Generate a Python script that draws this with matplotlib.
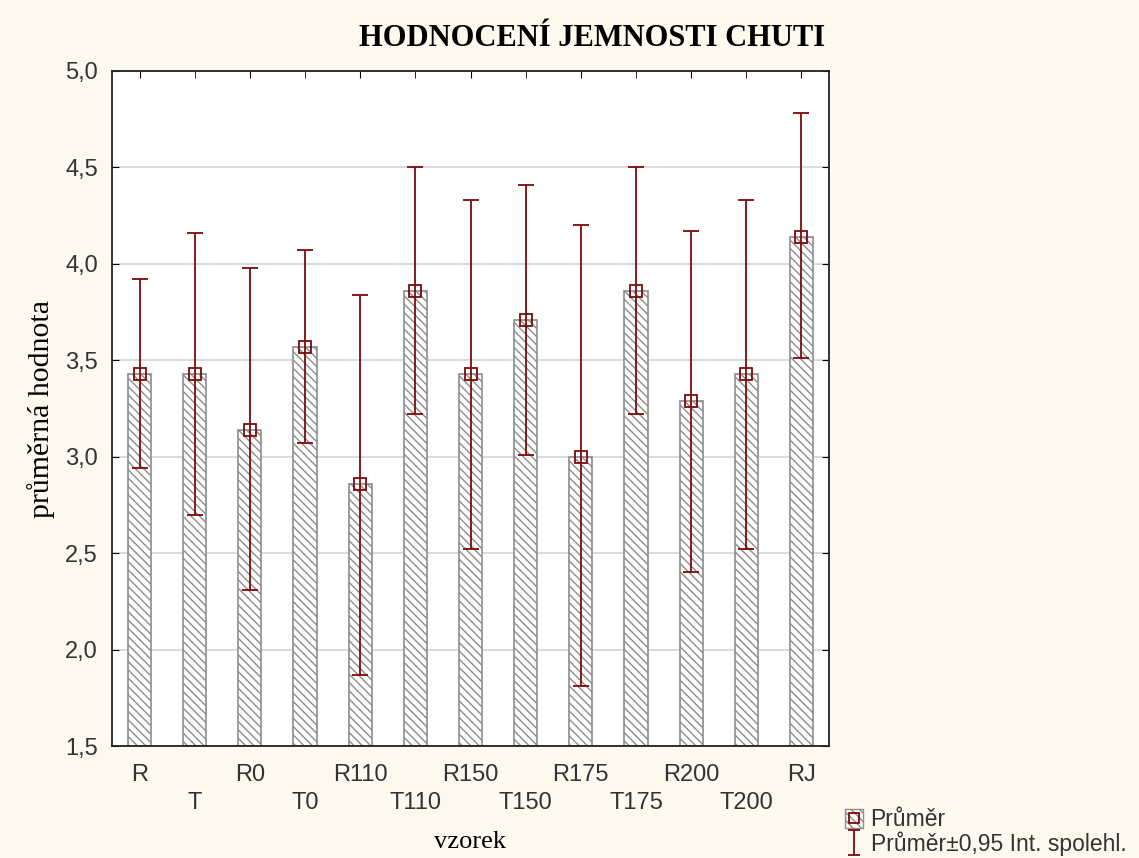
import numpy as np
import matplotlib
matplotlib.use('Agg')
import matplotlib.pyplot as plt
from matplotlib.patches import Patch
from matplotlib.lines import Line2D
from matplotlib.path import Path

# data
samples = ['R', 'T', 'R0', 'T0', 'R110', 'T110', 'R150', 'T150',
           'R175', 'T175', 'R200', 'T200', 'RJ']
means = [3.43, 3.43, 3.14, 3.57, 2.86, 3.86, 3.43, 3.71, 3.00, 3.86, 3.29, 3.43, 4.14]
ci_upper = [3.92, 4.16, 3.98, 4.07, 3.84, 4.50, 4.33, 4.41, 4.20, 4.50, 4.17, 4.33, 4.78]
ci_lower = [2.94, 2.70, 2.31, 3.07, 1.87, 3.22, 2.52, 3.01, 1.81, 3.22, 2.40, 2.52, 3.51]
yticks = [1.5, 2.0, 2.5, 3.0, 3.5, 4.0, 4.5, 5.0]

bg = '#fdf9ef'
red = '#7d0a0a'
plt.rcParams['hatch.color'] = '#9a9a9a'
plt.rcParams['hatch.linewidth'] = 1.0
plt.rcParams['font.family'] = ['Liberation Sans', 'DejaVu Sans']

fig = plt.figure(figsize=(11.39, 8.58), dpi=100, facecolor=bg)
ax = fig.add_axes([112 / 1139, 1 - 746 / 858, (829 - 112) / 1139, (746 - 71) / 858])
ax.set_facecolor('white')

x = np.arange(len(samples))
means = np.array(means)
lo = means - np.array(ci_lower)
hi = np.array(ci_upper) - means

ax.bar(x, means - 1.5, bottom=1.5, width=0.42, color='white', edgecolor='#8c8c8c',
       hatch='\\\\\\\\', linewidth=1.2, zorder=2)
ax.errorbar(x, means, yerr=[lo, hi], fmt='none', ecolor=red, elinewidth=1.3,
            capsize=6, capthick=1.3, zorder=3)
ax.plot(x, means, 's', ms=8, mfc='none', mec=red, mew=1.3, zorder=4)

ax.set_xlim(-0.5, 12.5)
ax.set_ylim(1.5, 5.0)
ax.set_yticks(yticks)
ax.set_yticklabels([f'{v:.1f}'.replace('.', ',') for v in yticks])
ax.yaxis.grid(True, color='#d4d4d4', linewidth=1.2, zorder=0)
ax.set_axisbelow(True)

# staggered category labels
ax.set_xticks(x[::2])
ax.set_xticklabels(samples[::2])
ax.set_xticks(x[1::2], minor=True)
ax.set_xticklabels(samples[1::2], minor=True)
ax.tick_params(axis='x', which='major', direction='in', length=5, pad=13,
               top=True, labelsize=17, labelcolor='#333333')
ax.tick_params(axis='x', which='minor', direction='in', length=5, pad=33,
               top=True, labelsize=17, labelcolor='#333333')
ax.tick_params(axis='y', direction='in', length=5, right=True, pad=10,
               labelsize=17, labelcolor='#333333')
for s in ax.spines.values():
    s.set_linewidth(1.3)
    s.set_color('#222222')

ax.set_xlabel('vzorek', family='Liberation Serif', fontsize=19, labelpad=12)
ax.set_ylabel('průměrná hodnota', family='Liberation Serif', fontsize=21.5)
ax.yaxis.set_label_coords(-0.08, 0.5)
fig.text(592 / 1139, 1 - 38 / 858, 'HODNOCENÍ JEMNOSTI CHUTI', family='Liberation Serif',
         fontsize=22, fontweight='bold', ha='center', va='center')

# legend
ibar = Path([(-0.5, 1), (0.5, 1), (0, 1), (0, -1), (-0.5, -1), (0.5, -1)],
            [Path.MOVETO, Path.LINETO, Path.MOVETO, Path.LINETO, Path.MOVETO, Path.LINETO])
h1 = (Patch(facecolor='white', edgecolor='#8c8c8c', hatch='\\\\\\\\'),
      Line2D([], [], ls='none', marker='s', ms=7, mfc='none', mec=red, mew=1.3))
h2 = Line2D([], [], ls='none', marker=ibar, ms=18, mec=red, mew=1.3)
fig.legend([h1, h2], ['Průměr', 'Průměr±0,95 Int. spolehl.'], loc='lower left',
           bbox_to_anchor=(827 / 1139, -0.019), frameon=False, fontsize=16.5,
           handlelength=0.75, handleheight=0.9, handletextpad=0.35,
           labelspacing=0.0, borderpad=0.3, labelcolor='#333333')

fig.savefig('out.png', dpi=100, facecolor=bg)
